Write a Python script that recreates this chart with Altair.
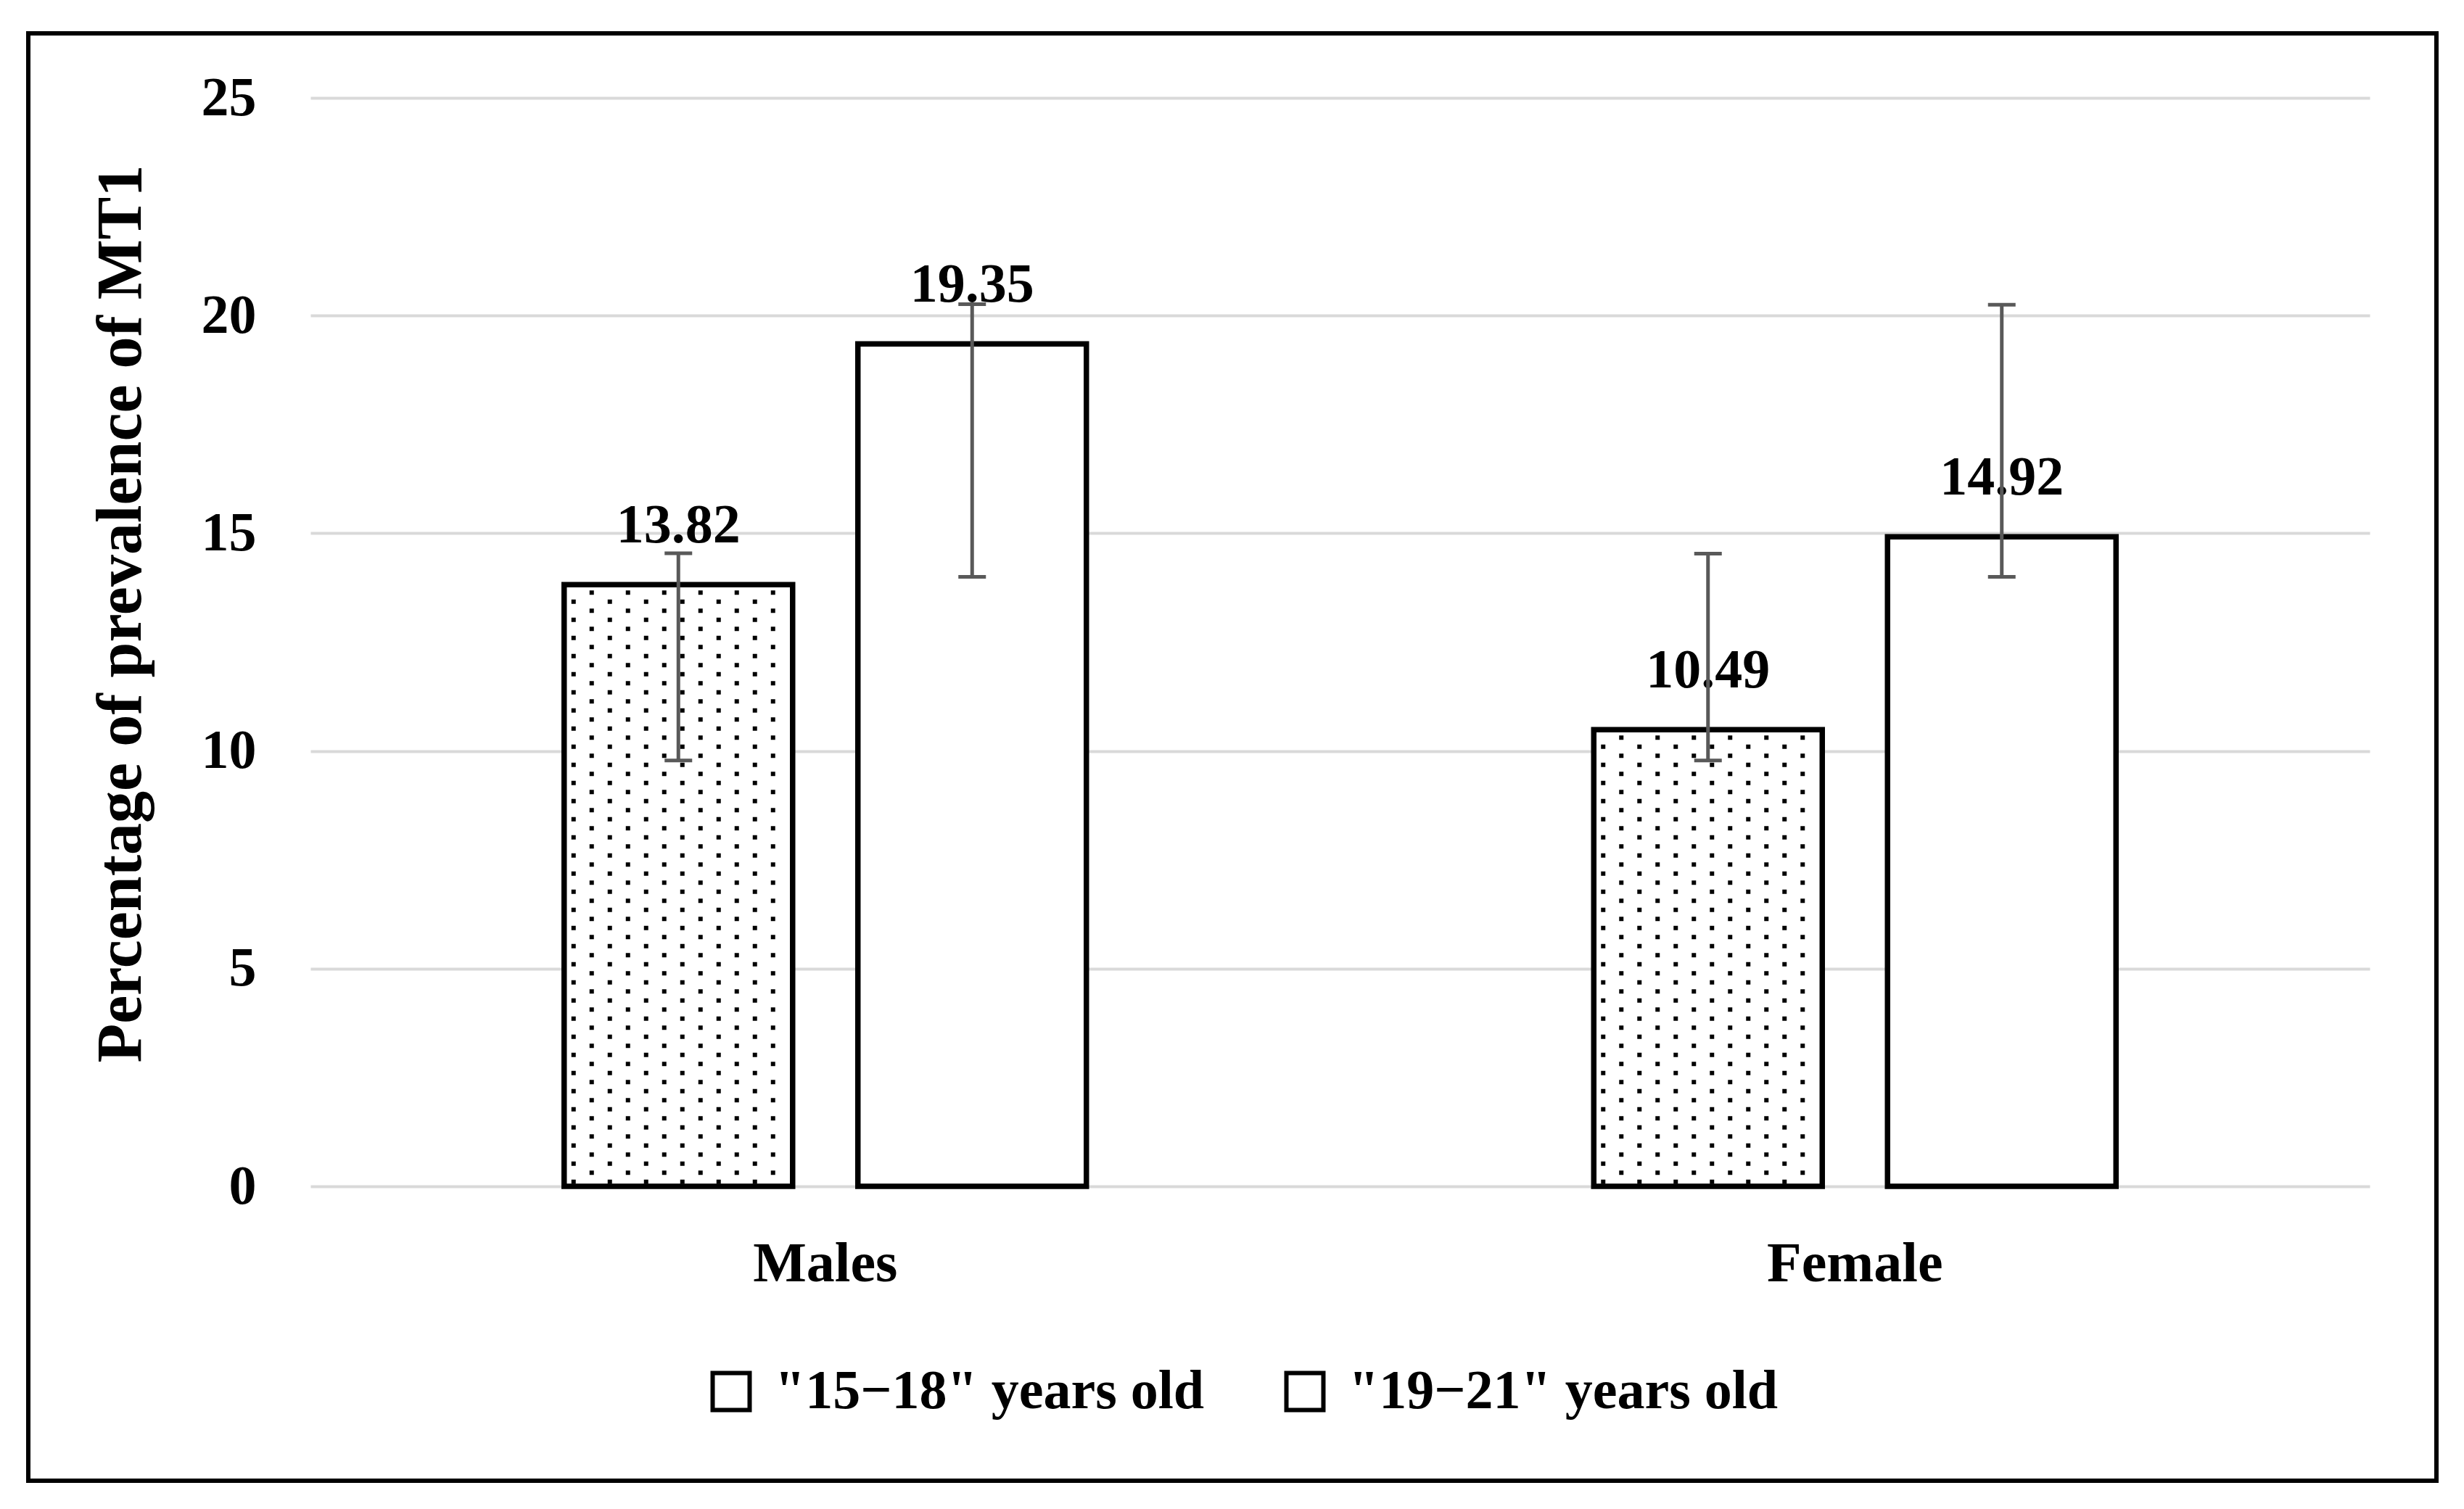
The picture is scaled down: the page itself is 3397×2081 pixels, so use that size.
import altair as alt
import pandas as pd

# ---------------- data ----------------
groups = ["Males", "Female"]
ages = ['"15\u221218" years old', '"19\u221221" years old']
prev_15_18 = [13.82, 10.49]
prev_19_21 = [19.35, 14.92]
err_low_15_18 = [9.78, 9.78]
err_high_15_18 = [14.54, 14.53]
err_low_19_21 = [14.0, 14.0]
err_high_19_21 = [20.26, 20.25]
y_ticks = [0, 5, 10, 15, 20, 25]

rows = []
for i, g in enumerate(groups):
    rows.append({"group": g, "age": ages[0], "value": prev_15_18[i],
                 "lo": err_low_15_18[i], "hi": err_high_15_18[i], "dotted": 1})
    rows.append({"group": g, "age": ages[1], "value": prev_19_21[i],
                 "lo": err_low_19_21[i], "hi": err_high_19_21[i], "dotted": 0})
df = pd.DataFrame(rows)

# ---------------- layout ----------------
W, H = 2839, 1501
BAND = W / 2
P_IN, P_OUT = 0.2222, 0.8636
STEP = BAND / (2 - P_IN + 2 * P_OUT)
BAR_W = STEP * (1 - P_IN)
BAR0 = P_OUT * STEP            # start of first sub-band inside a group band
ROW_STEP = 12.5 * 25 / H       # dot-texture row spacing (data units)
FONT = "Liberation Serif"

x_enc = alt.X("group:N", sort=groups,
              scale=alt.Scale(paddingInner=0, paddingOuter=0),
              axis=alt.Axis(title=None, labelFont=FONT, labelFontSize=78,
                            labelFontWeight="bold", labelColor="black",
                            labelPadding=68, labelLimit=0, ticks=False, tickSize=0,
                            domain=False, grid=False, labelAngle=0))
xo_enc = alt.XOffset("age:N", sort=ages,
                     scale=alt.Scale(type="band", paddingInner=P_IN, paddingOuter=P_OUT))
y_scale = alt.Scale(domain=[0, 25], nice=False, zero=True)
y_axis = alt.Axis(title="Percentage of prevalence of MT1", values=y_ticks,
                  labelFont=FONT, labelFontSize=76, labelFontWeight="bold",
                  labelColor="black",
                  labelPadding=75, ticks=False, tickSize=0, domain=False,
                  grid=True, gridColor="#d9d9d9", gridWidth=4,
                  titleFont=FONT, titleFontSize=88, titleFontWeight="bold",
                  titleColor="black", titleAngle=270, titleX=-261, titleY=711,
                  titleBaseline="middle", titleAlign="center")


def Y(field):
    return alt.Y(field, scale=y_scale, axis=y_axis)


frame = alt.Chart(pd.DataFrame({"k": [0]})).mark_rect(
    fill="transparent", stroke="black", strokeWidth=6
).encode(x=alt.value(-389), x2=alt.value(W + 92),
         y=alt.value(-89), y2=alt.value(H + 406))

bars = alt.Chart(df).mark_bar(stroke="black", strokeWidth=7.5).encode(
    x=x_enc, xOffset=xo_enc, y=Y("value:Q"),
    fill=alt.Fill("age:N", sort=ages,
                  scale=alt.Scale(domain=ages, range=["white", "white"]),
                  legend=alt.Legend(title=None, orient="none", legendX=542,
                                    legendY=1746, direction="horizontal",
                                    symbolType="square", symbolSize=2600,
                                    symbolStrokeColor="black",
                                    symbolStrokeWidth=6,
                                    labelFont=FONT, labelFontSize=76,
                                    labelFontWeight="bold", labelColor="black",
                                    labelLimit=0, labelOffset=22,
                                    columnPadding=100, padding=0)))

dots = alt.Chart(df).transform_filter("datum.dotted == 1").transform_calculate(
    r=f"sequence(0, floor(datum.value / {ROW_STEP}))"
).transform_flatten(["r"]).transform_calculate(
    c="sequence(0, 14)"
).transform_flatten(["c"]).transform_calculate(
    ypos=f"(datum.r + 0.5) * {ROW_STEP}",
    xo=f"{BAR0} + 13 + datum.c * 25"
).transform_filter(
    f"(datum.r + datum.c) % 2 == 0 && datum.ypos < datum.value - 0.07 "
    f"&& datum.xo < {BAR0 + BAR_W} - 5"
).mark_square(size=36, color="black", opacity=1).encode(
    x=x_enc,
    xOffset=alt.XOffset("xo:Q", scale=alt.Scale(domain=[0, BAND], range=[0, BAND])),
    y=Y("ypos:Q"))

labels = alt.Chart(df).mark_text(
    font=FONT, fontSize=76, fontWeight="bold", dy=-58, baseline="alphabetic",
    color="black"
).encode(x=x_enc, xOffset=xo_enc, y=Y("value:Q"),
         text=alt.Text("value:Q", format=".2f"))

err_line = alt.Chart(df).mark_rule(color="#595959", strokeWidth=5).encode(
    x=x_enc, xOffset=xo_enc, y=Y("lo:Q"), y2="hi:Q")
cap_lo = alt.Chart(df).mark_tick(color="#595959", size=38, thickness=5, opacity=1).encode(
    x=x_enc, xOffset=xo_enc, y=Y("lo:Q"))
cap_hi = alt.Chart(df).mark_tick(color="#595959", size=38, thickness=5, opacity=1).encode(
    x=x_enc, xOffset=xo_enc, y=Y("hi:Q"))

chart = alt.layer(frame, bars, dots, labels, err_line, cap_lo, cap_hi).resolve_scale(
    xOffset="independent"
).properties(
    width=W, height=H,
    padding={"left": 420, "top": 127, "right": 110, "bottom": 420},
    autosize=alt.AutoSizeParams(type="none"),
    background="white",
).configure_view(stroke=None)

chart.save("out.html", embed_options={"renderer": "svg", "actions": False})
